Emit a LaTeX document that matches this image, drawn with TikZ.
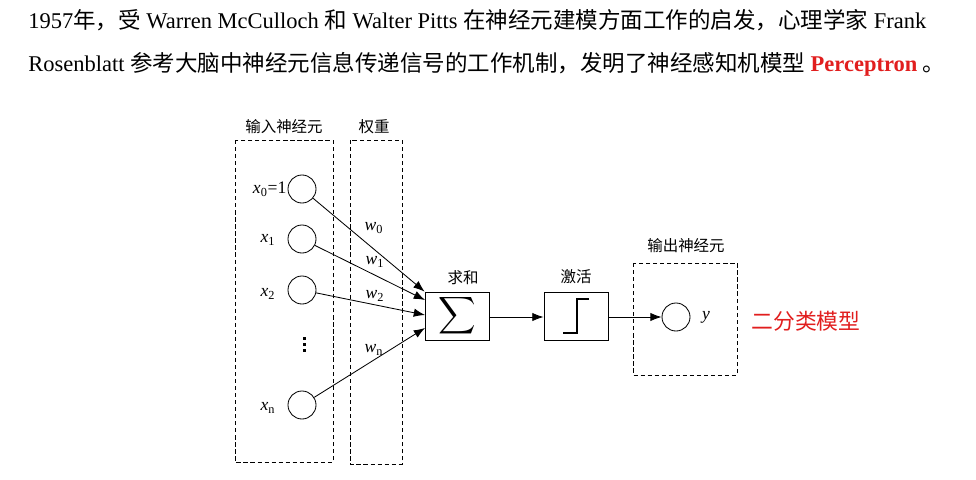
\documentclass[tikz,border=0pt]{standalone}
\usepackage{fontspec}
\setmainfont{Liberation Serif}
\newfontfamily\cjk{Noto Sans CJK SC}
\usetikzlibrary{arrows.meta}
\definecolor{hired}{RGB}{225,30,30}

\tikzset{
  neuron/.style={circle, draw, line width=0.6pt, minimum size=0.7cm, inner sep=0pt},
  unit/.style={draw, line width=0.6pt, minimum width=1.6cm, minimum height=1.2cm, inner sep=0pt},
  group/.style={draw, dash pattern=on 3pt off 2pt, line width=0.6pt},
  lbl/.style={font=\fontsize{11}{13}\selectfont\cjk},
  var/.style={font=\fontsize{12.5}{14}\selectfont, inner sep=1pt},
  link/.style={-{Latex[length=8pt,width=6pt]}, line width=0.6pt},
}
\newcommand{\zh}[1]{{\fontsize{16}{18}\selectfont\cjk #1}}

\begin{document}
\begin{tikzpicture}[x=0.025cm, y=-0.025cm]
  \useasboundingbox (0,0) rectangle (976,480);
  % intro text
  \node[anchor=base west, inner sep=0pt, font=\fontsize{16}{18}\selectfont] (line1) at (28,29)
    {1957\zh{年，受} Warren McCulloch \zh{和} Walter Pitts \zh{在神经元建模方面工作的启发，心理学家} Frank};
  \node[anchor=base west, inner sep=0pt, font=\fontsize{16}{18}\selectfont] (line2) at (28,71)
    {Rosenblatt \zh{参考大脑中神经元信息传递信号的工作机制，发明了神经感知机模型} \textcolor{hired}{\textbf{Perceptron}} \zh{。}};

  % groups
  \draw[group] (235,140) rectangle (333,462);
  \draw[group] (350,140) rectangle (402,464);
  \draw[group] (633,263) rectangle (737,375);
  \node[lbl] (inlbl) at (284,127) {输入神经元};
  \node[lbl] (wlbl) at (374,127) {权重};
  \node[lbl] (outlbl) at (686,246) {输出神经元};

  % input neurons
  \node[neuron] (x0) at (302,189) {};
  \node[neuron] (x1) at (302,239) {};
  \node[neuron] (x2) at (302,290) {};
  \node[neuron] (xn) at (302,405) {};
  \node[var, anchor=east] (x0t) at (288,189) {\textit{x}\textsubscript{0}=1};
  \node[var] (x1t) at (268,240) {\textit{x}\textsubscript{1}};
  \node[var] (x2t) at (268,294) {\textit{x}\textsubscript{2}};
  \node[var] (xnt) at (268,408) {\textit{x}\textsubscript{n}};
  \foreach \d in {337,343,349}
    \fill (302.5,\d) rectangle +(3,3);

  % sum and activation
  \node[unit] (sum) at (457,316) {\scalebox{1.85}{$\displaystyle\sum$}};
  \node[lbl] (sumt) at (463,278) {求和};
  \node[unit, minimum height=1.18cm] (act) at (576,316.5) {};
  \node[lbl] (actt) at (576,277) {激活};
  \draw[line width=1.6pt] (563,333) -- (577,333) -- (577,299) -- (589,299);

  % output
  \node[neuron] (y) at (676,317) {};
  \node[var] (yt) at (706,317) {\textit{y}};
  \node[font=\fontsize{15.5}{18}\selectfont\cjk, text=hired] (kind) at (806,321) {二分类模型};

  % links
  \coordinate (in0) at (sum.north west);
  \coordinate (in1) at (425,300);
  \coordinate (in2) at (425,315);
  \coordinate (inn) at (425,328);
  \draw[link] (x0) -- (in0);
  \draw[link] (x1) -- (in1);
  \draw[link] (x2) -- (in2);
  \draw[link] (xn) -- (inn);
  \node[var] (w0) at (374,228) {\textit{w}\textsubscript{0}};
  \node[var] (w1) at (375,262) {\textit{w}\textsubscript{1}};
  \node[var] (w2) at (375,296) {\textit{w}\textsubscript{2}};
  \node[var] (wn) at (374,350) {\textit{w}\textsubscript{n}};
  \draw[link] (sum.east |- y) -- (act.west |- y);
  \draw[link] (act.east |- y) -- (y);
\end{tikzpicture}
\end{document}
